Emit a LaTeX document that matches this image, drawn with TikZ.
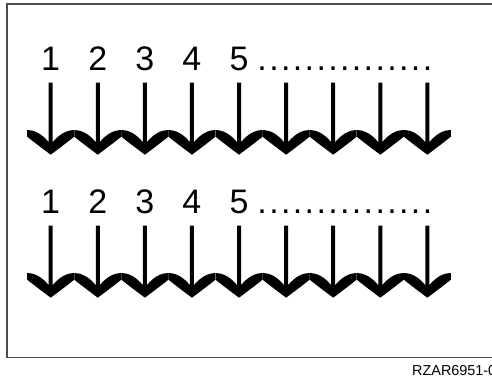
\documentclass[tikz,border=0pt]{standalone}
\usepackage{fontspec}
\setmainfont{Liberation Sans}
\newcommand{\dotbox}{\makebox[11.8pt]{.}}
\newcommand{\dotrow}{\dotbox\dotbox\dotbox\dotbox\dotbox\dotbox\dotbox\dotbox\dotbox\dotbox\dotbox\dotbox\dotbox\dotbox\dotbox}
\tikzset{
  frame/.style={draw=black!70, line width=1.6pt},
  num/.style={anchor=base, inner sep=0pt, font=\fontsize{34}{40}\selectfont},
  dots/.style={anchor=base west, inner sep=0pt, font=\fontsize{34}{40}\selectfont},
  tag/.style={anchor=base west, inner sep=0pt, font=\fontsize{14.4}{17}\selectfont},
  barb/.pic={
    \fill (0,72) .. controls (-8,66) and (-16,60) .. (-23.5,54)
      -- (-23.5,47.5) .. controls (-16,47) and (-8,52) .. (-2,59.5)
      -- (-2,0) -- (2,0) -- (2,59.5)
      .. controls (8,52) and (16,47) .. (23.5,47.5)
      -- (23.5,54) .. controls (16,60) and (8,66) .. (0,72) -- cycle;
  }
}
\begin{document}
\begin{tikzpicture}[x=1pt,y=-1pt]
\useasboundingbox (0,0) rectangle (492,379);
\clip (0,0) rectangle (492,379);
\fill[white] (0,0) rectangle (492,379);
\draw[frame] (7,4) rectangle (500,357.3);
\foreach \r/\yoff in {a/0, b/143}{
  \foreach \i in {0,...,8}{
    \coordinate (\r top\i) at ({50.7+47.08*\i}, {82.7+\yoff});
    \pic at (\r top\i) {barb};
  }
  \foreach \i [evaluate=\i as \k using int(\i-1)] in {1,...,5}{
    \node[num] (\r num\i) at ({50.7+47.08*\k}, {70.7+\yoff}) {\i};
  }
  \node[dots] (\r dots) at (256.1, {70.7+\yoff}) {\dotrow};
}
\node[tag] (label) at (412, 375.3) {RZAR6951-0};
\end{tikzpicture}
\end{document}
